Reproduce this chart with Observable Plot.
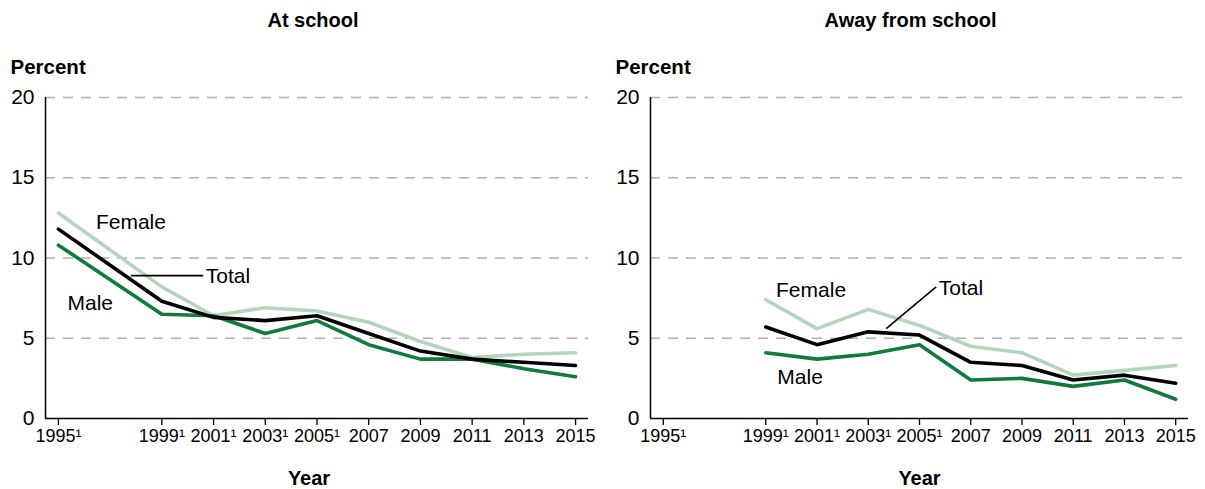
<!DOCTYPE html>
<html>
<head>
<meta charset="utf-8">
<script src="https://cdn.jsdelivr.net/npm/d3@7"></script>
<script src="https://cdn.jsdelivr.net/npm/@observablehq/plot@0.6"></script>
<style>
  html, body { margin: 0; padding: 0; background: #fff; }
  #wrap { display: flex; width: 1205px; height: 489px; }
</style>
</head>
<body>
<div id="wrap"></div>
<script>
// ---- Data ----
const series = ["Female", "Male", "Total"];
const seriesColors = ["#b3d6bb", "#127a3c", "#000000"];

const yearsSchool = [1995, 1999, 2001, 2003, 2005, 2007, 2009, 2011, 2013, 2015];
const schoolFemale = [12.8, 8.2, 6.4, 6.9, 6.7, 6.0, 4.8, 3.8, 4.0, 4.1];
const schoolMale   = [10.8, 6.5, 6.4, 5.3, 6.1, 4.6, 3.7, 3.7, 3.1, 2.6];
const schoolTotal  = [11.8, 7.3, 6.3, 6.1, 6.4, 5.3, 4.2, 3.7, 3.5, 3.3];

const yearsAway = [1999, 2001, 2003, 2005, 2007, 2009, 2011, 2013, 2015];
const awayFemale = [7.4, 5.6, 6.8, 5.8, 4.5, 4.1, 2.7, 3.0, 3.3];
const awayMale   = [4.1, 3.7, 4.0, 4.6, 2.4, 2.5, 2.0, 2.4, 1.2];
const awayTotal  = [5.7, 4.6, 5.4, 5.2, 3.5, 3.3, 2.4, 2.7, 2.2];

const tickYears = [1995, 1999, 2001, 2003, 2005, 2007, 2009, 2011, 2013, 2015];
const footnotedYears = [1995, 1999, 2001, 2003, 2005];
const yTicks = [0, 5, 10, 15, 20];
const xDomain = [1994.5, 2015.5];

// series label annotations (data coordinates)
const schoolLabels = [
  {x: 1996.45, y: 12.2, text: "Female"},
  {x: 2000.7, y: 8.85, text: "Total"},
  {x: 1995.35, y: 7.2, text: "Male"}
];
const schoolLeaders = [{x1: 1997.8, y1: 8.9, x2: 2000.6, y2: 8.9}];
const awayLabels = [
  {x: 1999.4, y: 8.0, text: "Female"},
  {x: 2005.75, y: 8.1, text: "Total"},
  {x: 1999.45, y: 2.6, text: "Male"}
];
const awayLeaders = [{x1: 2003.7, y1: 5.6, x2: 2005.65, y2: 8.2}];

// ---- Build ----
function rowsFrom(years, f, m, t) {
  const rows = [];
  years.forEach((yr, i) => rows.push({year: yr, value: f[i], series: "Female"}));
  years.forEach((yr, i) => rows.push({year: yr, value: m[i], series: "Male"}));
  years.forEach((yr, i) => rows.push({year: yr, value: t[i], series: "Total"}));
  return rows;
}

const tickFormat = d => footnotedYears.includes(d) ? d + "¹" : String(d);
const font = "'Liberation Sans', Arial, Helvetica, sans-serif";

function panel({title, rows, labels, leaders, width, marginLeft, marginRight, titleDx, yearDx}) {
  return Plot.plot({
    width, height: 489,
    marginLeft, marginRight, marginTop: 97, marginBottom: 71,
    style: {fontFamily: font, fontSize: "18px", color: "#000", background: "#fff"},
    x: {domain: xDomain, label: null},
    y: {domain: [0, 20], label: null},
    color: {domain: series, range: seriesColors},
    marks: [
      Plot.gridY(yTicks.filter(d => d > 0), {stroke: "#b0b0b0", strokeOpacity: 1, strokeWidth: 1.3, strokeDasharray: "10,8"}),
      Plot.axisY(yTicks, {tickSize: 0, tickPadding: 11, fontSize: 21, label: null}),
      Plot.axisX(tickYears, {tickSize: 7, tickPadding: 4, tickFormat, fontSize: 18, label: null, strokeWidth: 1.3}),
      Plot.ruleY([0], {stroke: "#000", strokeWidth: 1.5}),
      Plot.ruleX([xDomain[0]], {stroke: "#000", strokeWidth: 1.5}),
      Plot.line(rows, {x: "year", y: "value", stroke: "series", z: "series", strokeWidth: 3.6}),
      Plot.link(leaders, {x1: "x1", y1: "y1", x2: "x2", y2: "y2", stroke: "#000", strokeWidth: 1.6}),
      Plot.text(labels, {x: "x", y: "y", text: "text", textAnchor: "start", fontSize: 21, fill: "#000"}),
      Plot.text([title], {frameAnchor: "top", lineAnchor: "middle", dy: -77, dx: titleDx, fontWeight: "bold", fontSize: 20}),
      Plot.text(["Percent"], {frameAnchor: "top-left", lineAnchor: "middle", textAnchor: "start", dx: -35, dy: -30, fontWeight: "bold", fontSize: 20.5}),
      Plot.text(["Year"], {frameAnchor: "bottom", lineAnchor: "middle", dy: 60, dx: yearDx, fontWeight: "bold", fontSize: 20})
    ]
  });
}

const wrap = document.getElementById("wrap");
wrap.appendChild(panel({
  title: "At school",
  rows: rowsFrom(yearsSchool, schoolFemale, schoolMale, schoolTotal),
  labels: schoolLabels, leaders: schoolLeaders,
  width: 600, marginLeft: 45, marginRight: 12, titleDx: -4, yearDx: -8
}));
wrap.appendChild(panel({
  title: "Away from school",
  rows: rowsFrom(yearsAway, awayFemale, awayMale, awayTotal),
  labels: awayLabels, leaders: awayLeaders,
  width: 605, marginLeft: 50, marginRight: 17, titleDx: -9, yearDx: 0
}));
</script>
</body>
</html>
